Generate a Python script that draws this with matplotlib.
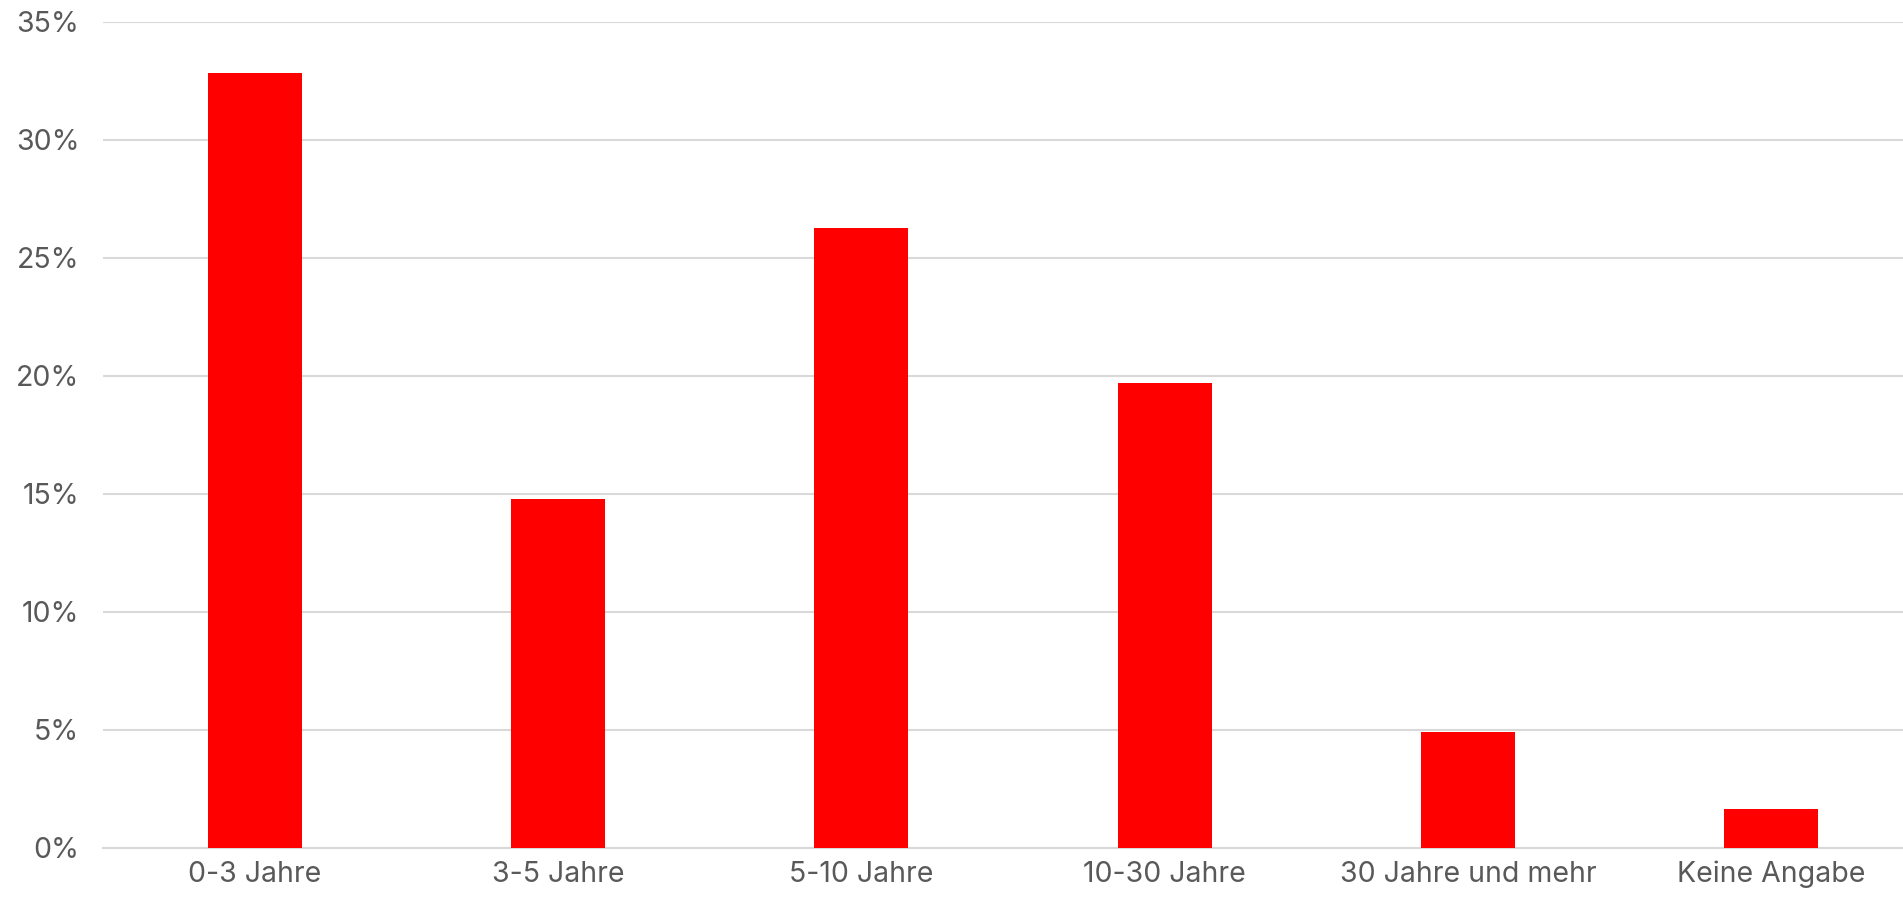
import matplotlib.pyplot as plt
from matplotlib.ticker import FuncFormatter

# Data
categories = ["0-3 Jahre", "3-5 Jahre", "5-10 Jahre", "10-30 Jahre", "30 Jahre und mehr", "Keine Angabe"]
values = [32.8, 14.8, 26.25, 19.7, 4.92, 1.65]
y_ticks = [0, 5, 10, 15, 20, 25, 30, 35]

plt.rcParams['font.family'] = ['Inter', 'DejaVu Sans']

fig = plt.figure(figsize=(19.03, 8.99), dpi=100)
# axes run slightly past the right edge, as in the cropped original
ax = fig.add_axes([103 / 1903, 51 / 899, 1820 / 1903, 826.5 / 899])

ax.bar(range(len(categories)), values, width=0.31, color='#ff0000', zorder=3)

ax.set_xlim(-0.5, len(categories) - 0.5)
ax.set_ylim(0, 35)
ax.set_yticks(y_ticks)
ax.yaxis.set_major_formatter(FuncFormatter(lambda v, p: f"{v:.0f}%"))
ax.set_xticks(range(len(categories)))
ax.set_xticklabels(categories)

ax.grid(axis='y', color='#d9d9d9', linewidth=1.5, zorder=0)
for s in ['top', 'right', 'left']:
    ax.spines[s].set_visible(False)
ax.spines['bottom'].set_color('#d9d9d9')
ax.spines['bottom'].set_linewidth(1.5)

ax.tick_params(axis='both', length=0, labelsize=20.5, labelcolor='#595959')
ax.tick_params(axis='y', pad=17)
ax.tick_params(axis='x', pad=9)

fig.savefig("out.png", dpi=100)
